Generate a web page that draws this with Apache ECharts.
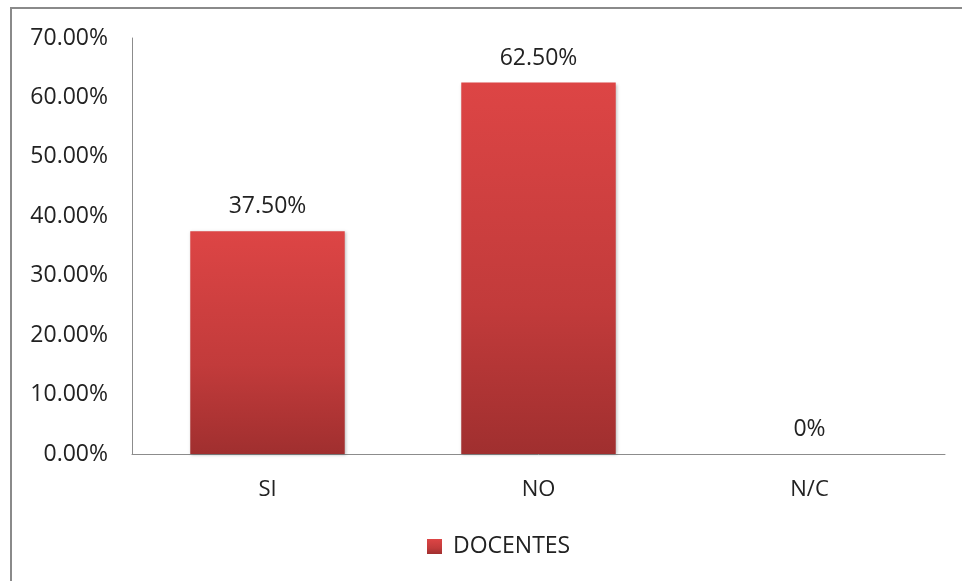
<!DOCTYPE html>
<html>
<head>
<meta charset="utf-8">
<script src="https://cdn.jsdelivr.net/npm/echarts@6/dist/echarts.min.js"></script>
<style>
  html, body { margin: 0; padding: 0; background: #fff; }
  #frame { position: absolute; left: 10px; top: 7px; width: 960px; height: 600px;
           border-top: 2px solid #8a8a8a; border-left: 2px solid #8a8a8a; box-sizing: border-box; }
  #chart { position: absolute; left: 0; top: 0; width: 962px; height: 581px; }
</style>
</head>
<body>
<div id="frame"></div>
<div id="chart"></div>
<script>
const categories = ['SI', 'NO', 'N/C'];
const seriesName = 'DOCENTES';
const values = [37.5, 62.5, 0];
const valueLabels = ['37.50%', '62.50%', '0%'];
const yTicks = { min: 0, max: 70, interval: 10 };

const chart = echarts.init(document.getElementById('chart'), null, { renderer: 'canvas' });
const font = '"Open Sans", "Liberation Sans", sans-serif';
const fs = 23;
const barGrad = new echarts.graphic.LinearGradient(0, 0, 0, 1, [
  { offset: 0, color: '#dd4545' },
  { offset: 0.6, color: '#c23b3b' },
  { offset: 1, color: '#a02f2f' }
]);
chart.setOption({
  animation: false,
  grid: { left: 132, top: 38, right: 17, bottom: 127, containLabel: false },
  legend: {
    top: 535, left: 427, padding: 0,
    itemWidth: 15, itemHeight: 15, itemGap: 8,
    icon: 'rect',
    textStyle: { fontFamily: font, fontSize: fs, color: '#222', padding: [0, 0, 0, 6] },
    data: [seriesName]
  },
  xAxis: {
    type: 'category', data: categories,
    axisLine: { lineStyle: { color: '#8c8c8c', width: 1 } },
    axisTick: { show: false },
    axisLabel: { fontFamily: font, fontSize: fs - 1, color: '#222', margin: 25 }
  },
  yAxis: {
    type: 'value', min: yTicks.min, max: yTicks.max, interval: yTicks.interval,
    axisLine: { show: true, lineStyle: { color: '#8c8c8c', width: 1 } },
    axisTick: { show: false },
    splitLine: { show: false },
    axisLabel: {
      fontFamily: font, fontSize: fs, color: '#222', margin: 24,
      formatter: v => v.toFixed(2) + '%'
    }
  },
  series: [{
    name: seriesName, type: 'bar', data: values, barWidth: '57%',
    itemStyle: { color: barGrad,
                 shadowColor: 'rgba(0,0,0,0.25)', shadowBlur: 3, shadowOffsetX: 1, shadowOffsetY: 1 },
    label: {
      show: true, position: 'top', distance: 13,
      fontFamily: font, fontSize: fs, color: '#222',
      formatter: p => valueLabels[p.dataIndex]
    }
  }]
});
</script>
</body>
</html>
